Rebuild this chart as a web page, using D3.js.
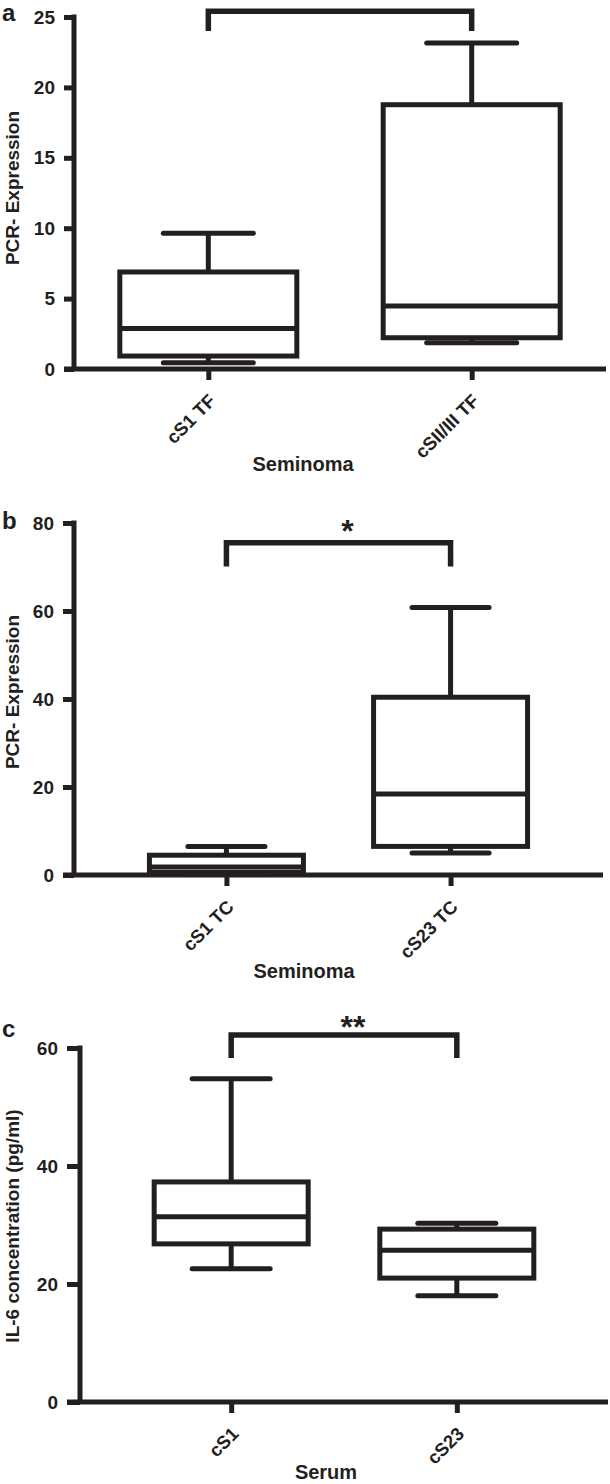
<!DOCTYPE html>
<html>
<head>
<meta charset="utf-8">
<script src="https://cdn.jsdelivr.net/npm/d3@7"></script>
<style>
  html, body { margin: 0; padding: 0; background: #fff; }
  svg { display: block; }
  text { font-family: "Liberation Sans", Arial, Helvetica, sans-serif; font-weight: bold; fill: #231f20; }
</style>
</head>
<body>
<svg id="chart" width="610" height="1484"></svg>
<script>
// ---------------- DATA ----------------
// Panel a
const catsA   = ["cS1 TF", "cSII/III TF"];
const minA    = [0.45, 1.86];
const q1A     = [0.92, 2.22];
const medA    = [2.88, 4.48];
const q3A     = [6.89, 18.77];
const maxA    = [9.65, 23.16];
const ticksA  = [0, 5, 10, 15, 20, 25];
const bracketA = [24.0, 25.4];   // leg bottom, bar top
const sigA    = "";
const sigYA   = 26.5;

// Panel b
const catsB   = ["cS1 TC", "cS23 TC"];
const minB    = [0.2, 5.0];
const q1B     = [0.6, 6.5];
const medB    = [1.8, 18.4];
const q3B     = [4.5, 40.4];
const maxB    = [6.5, 60.8];
const ticksB  = [0, 20, 40, 60, 80];
const bracketB = [70.1, 75.5];
const sigB    = "*";
const sigYB   = 80;

// Panel c
const catsC   = ["cS1", "cS23"];
const minC    = [22.6, 18.0];
const q1C     = [26.8, 21.0];
const medC    = [31.4, 25.7];
const q3C     = [37.3, 29.3];
const maxC    = [54.8, 30.3];
const ticksC  = [0, 20, 40, 60];
const bracketC = [58.3, 62.2];
const sigC    = "**";
const sigYC   = 65;

// ---------------- LAYOUT ----------------
const INK = "#231f20";
const SW = 5;

const panels = [
  { letter: "a", cats: catsA, mins: minA, q1: q1A, med: medA, q3: q3A, maxs: maxA, ticks: ticksA,
    bracket: bracketA, sig: sigA, sigY: sigYA,
    yTitle: "PCR- Expression", xTitle: "Seminoma",
    yTopPx: 17, yBotPx: 369, xL: 74, xR: 606, pad: 0.51, boxW: 177, capW: 90,
    tickLen: 10, letterY: 21, yTitleY: 188, xTitleX: 303, xTitleY: 471 },
  { letter: "b", cats: catsB, mins: minB, q1: q1B, med: medB, q3: q3B, maxs: maxB, ticks: ticksB,
    bracket: bracketB, sig: sigB, sigY: sigYB,
    yTitle: "PCR- Expression", xTitle: "Seminoma",
    yTopPx: 523, yBotPx: 875, xL: 74, xR: 603, pad: 0.68, boxW: 154, capW: 77,
    tickLen: 11, letterY: 529, yTitleY: 692, xTitleX: 304, xTitleY: 978 },
  { letter: "c", cats: catsC, mins: minC, q1: q1C, med: medC, q3: q3C, maxs: maxC, ticks: ticksC,
    bracket: bracketC, sig: sigC, sigY: sigYC,
    yTitle: "IL-6 concentration (pg/ml)", xTitle: "Serum",
    yTopPx: 1048, yBotPx: 1402, xL: 80, xR: 608, pad: 0.67, boxW: 154, capW: 78,
    tickLen: 13, letterY: 1037, yTitleY: 1226, xTitleX: 326, xTitleY: 1479 }
];

const svg = d3.select("#chart");

panels.forEach(p => {
  const g = svg.append("g");
  const yMax = p.ticks[p.ticks.length - 1];
  const y = d3.scaleLinear().domain([0, yMax]).range([p.yBotPx, p.yTopPx]);
  const x = d3.scalePoint().domain(p.cats).range([p.xL, p.xR]).padding(p.pad);

  // panel letter
  g.append("text").attr("x", 2).attr("y", p.letterY)
    .attr("font-size", 24).text(p.letter);

  // Y axis
  const yAxis = d3.axisLeft(y).tickValues(p.ticks).tickSize(p.tickLen).tickSizeOuter(0).tickPadding(9);
  const ya = g.append("g").attr("transform", `translate(${p.xL},0)`).call(yAxis);
  ya.select(".domain").attr("stroke", INK).attr("stroke-width", SW).attr("d", `M0,${p.yBotPx}V${p.yTopPx - SW/2}`);
  ya.selectAll(".tick line").attr("stroke", INK).attr("stroke-width", SW);
  ya.selectAll(".tick text").attr("font-size", 19).attr("fill", INK)
    .style("font-family", '"Liberation Sans", Arial, sans-serif').style("font-weight", "bold");

  // X axis
  const xAxis = d3.axisBottom(x).tickSize(11).tickSizeOuter(0);
  const xa = g.append("g").attr("transform", `translate(0,${p.yBotPx})`).call(xAxis);
  xa.select(".domain").attr("stroke", INK).attr("stroke-width", SW).attr("d", `M${p.xL - p.tickLen},0H${p.xR}`);
  xa.selectAll(".tick line").attr("stroke", INK).attr("stroke-width", SW);
  xa.selectAll(".tick text")
    .attr("font-size", 18.5).attr("fill", INK)
    .style("font-family", '"Liberation Sans", Arial, sans-serif').style("font-weight", "bold")
    .attr("text-anchor", "end")
    .attr("y", 0).attr("dy", 0)
    .attr("transform", "translate(8,33) rotate(-45)");

  // Boxes
  const idx = d3.range(p.cats.length);
  const bx = g.append("g").attr("stroke", INK).attr("stroke-width", SW).attr("fill", "none");
  idx.forEach(i => {
    const cx = x(p.cats[i]);
    // whiskers
    bx.append("line").attr("x1", cx).attr("x2", cx).attr("y1", y(p.q3[i])).attr("y2", y(p.maxs[i]));
    bx.append("line").attr("x1", cx).attr("x2", cx).attr("y1", y(p.q1[i])).attr("y2", y(p.mins[i]));
    // caps
    bx.append("line").attr("x1", cx - p.capW/2).attr("x2", cx + p.capW/2)
      .attr("y1", y(p.maxs[i])).attr("y2", y(p.maxs[i])).attr("stroke-linecap", "round");
    bx.append("line").attr("x1", cx - p.capW/2).attr("x2", cx + p.capW/2)
      .attr("y1", y(p.mins[i])).attr("y2", y(p.mins[i])).attr("stroke-linecap", "round");
    // box
    bx.append("rect").attr("x", cx - p.boxW/2).attr("width", p.boxW)
      .attr("y", y(p.q3[i])).attr("height", y(p.q1[i]) - y(p.q3[i])).attr("fill", "#fff");
    // median
    bx.append("line").attr("x1", cx - p.boxW/2).attr("x2", cx + p.boxW/2)
      .attr("y1", y(p.med[i])).attr("y2", y(p.med[i]));
  });

  // significance bracket
  const x1 = x(p.cats[0]), x2 = x(p.cats[1]);
  g.append("path")
    .attr("d", `M${x1},${y(p.bracket[0])}V${y(p.bracket[1])}H${x2}V${y(p.bracket[0])}`)
    .attr("fill", "none").attr("stroke", INK).attr("stroke-width", 5.5);
  if (p.sig) {
    g.append("text").attr("x", (x1 + x2) / 2 + 9).attr("y", y(p.sigY) + 19)
      .attr("text-anchor", "middle").attr("font-size", 32).text(p.sig);
  }

  // axis titles
  g.append("text").attr("transform", `translate(19,${p.yTitleY}) rotate(-90)`)
    .attr("text-anchor", "middle").attr("font-size", 19).text(p.yTitle);
  g.append("text").attr("x", p.xTitleX).attr("y", p.xTitleY)
    .attr("text-anchor", "middle").attr("font-size", 20).text(p.xTitle);
});
</script>
</body>
</html>
